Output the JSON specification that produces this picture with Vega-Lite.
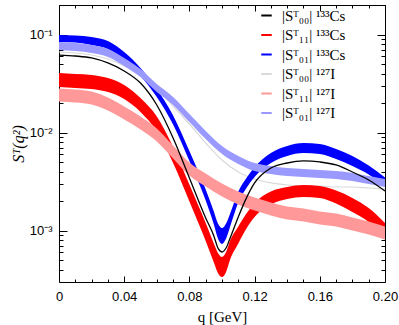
{
 "$schema": "https://vega.github.io/schema/vega-lite/v6.json",
 "width": 326, "height": 277,
 "autosize": {"type": "none"},
 "padding": {"left": 59, "top": 5, "right": 14, "bottom": 43},
 "config": {
  "view": {"stroke": "#000", "strokeWidth": 1},
  "axis": {"labelFont": "Liberation Sans", "labelFontSize": 13, "labelColor": "#000", "tickColor": "#000", "domain": false, "grid": false, "titleFont": "Liberation Serif", "titleFontWeight": "normal", "titleFontSize": 15, "titleColor": "#000"}
 },
 "datasets": {
  "cs01": [{"q":0,"lo":0.0839,"hi":0.0989},{"q":0.01,"lo":0.0829,"hi":0.0977},{"q":0.02,"lo":0.0782,"hi":0.0944},{"q":0.03,"lo":0.0712,"hi":0.0859},{"q":0.04,"lo":0.055,"hi":0.0664},{"q":0.05,"lo":0.0378,"hi":0.0456},{"q":0.06,"lo":0.0231,"hi":0.0278},{"q":0.07,"lo":0.0121,"hi":0.01495},{"q":0.08,"lo":0.00514,"hi":0.0065},{"q":0.09,"lo":0.00203,"hi":0.00263},{"q":0.095,"lo":0.001157,"hi":0.00157},{"q":0.0975,"lo":0.000833,"hi":0.001185},{"q":0.1,"lo":0.000732,"hi":0.001066},{"q":0.1025,"lo":0.000833,"hi":0.001185},{"q":0.105,"lo":0.001104,"hi":0.001498},{"q":0.11,"lo":0.00194,"hi":0.00251},{"q":0.115,"lo":0.002726,"hi":0.00345},{"q":0.12,"lo":0.00353,"hi":0.00446},{"q":0.13,"lo":0.0049,"hi":0.0062},{"q":0.14,"lo":0.00578,"hi":0.00731},{"q":0.15,"lo":0.0062,"hi":0.00784},{"q":0.16,"lo":0.00606,"hi":0.00766},{"q":0.17,"lo":0.00538,"hi":0.00681},{"q":0.18,"lo":0.00457,"hi":0.00578},{"q":0.19,"lo":0.00374,"hi":0.00462},{"q":0.2,"lo":0.00282,"hi":0.00349}],
  "cs11": [{"q":0,"lo":0.0292,"hi":0.0405},{"q":0.01,"lo":0.0285,"hi":0.0396},{"q":0.02,"lo":0.0278,"hi":0.0387},{"q":0.03,"lo":0.0259,"hi":0.036},{"q":0.04,"lo":0.022,"hi":0.0306},{"q":0.05,"lo":0.01623,"hi":0.0225},{"q":0.06,"lo":0.01027,"hi":0.0146},{"q":0.07,"lo":0.0049,"hi":0.00714},{"q":0.08,"lo":0.001986,"hi":0.00296},{"q":0.09,"lo":0.000786,"hi":0.001199},{"q":0.095,"lo":0.000474,"hi":0.000741},{"q":0.0975,"lo":0.000371,"hi":0.000593},{"q":0.1,"lo":0.000337,"hi":0.00054},{"q":0.1025,"lo":0.00038,"hi":0.000607},{"q":0.105,"lo":0.000509,"hi":0.000795},{"q":0.11,"lo":0.000741,"hi":0.001104},{"q":0.115,"lo":0.001053,"hi":0.001498},{"q":0.12,"lo":0.00138,"hi":0.001917},{"q":0.13,"lo":0.00185,"hi":0.00251},{"q":0.14,"lo":0.002105,"hi":0.00279},{"q":0.15,"lo":0.00221,"hi":0.002925},{"q":0.16,"lo":0.00216,"hi":0.002857},{"q":0.17,"lo":0.001894,"hi":0.00257},{"q":0.18,"lo":0.001552,"hi":0.00216},{"q":0.19,"lo":0.001227,"hi":0.001704},{"q":0.2,"lo":0.000863,"hi":0.001199}],
  "i11": [{"q":0,"lo":0.02076,"hi":0.02817},{"q":0.01,"lo":0.02028,"hi":0.02752},{"q":0.02,"lo":0.01935,"hi":0.02626},{"q":0.03,"lo":0.01681,"hi":0.0228},{"q":0.04,"lo":0.01361,"hi":0.01846},{"q":0.05,"lo":0.01076,"hi":0.0146},{"q":0.06,"lo":0.00812,"hi":0.01102},{"q":0.07,"lo":0.00545,"hi":0.00739},{"q":0.08,"lo":0.003655,"hi":0.00496},{"q":0.09,"lo":0.00282,"hi":0.00383},{"q":0.1,"lo":0.002234,"hi":0.00303},{"q":0.11,"lo":0.00185,"hi":0.00251},{"q":0.12,"lo":0.001607,"hi":0.00218},{"q":0.13,"lo":0.00143,"hi":0.00194},{"q":0.14,"lo":0.001301,"hi":0.001765},{"q":0.15,"lo":0.001242,"hi":0.001684},{"q":0.16,"lo":0.001157,"hi":0.00157},{"q":0.17,"lo":0.001104,"hi":0.001498},{"q":0.18,"lo":0.001005,"hi":0.001364},{"q":0.19,"lo":0.000915,"hi":0.001242},{"q":0.2,"lo":0.000814,"hi":0.001104}],
  "i01": [{"q":0,"lo":0.06955,"hi":0.0839},{"q":0.01,"lo":0.0679,"hi":0.08195},{"q":0.02,"lo":0.0648,"hi":0.0782},{"q":0.03,"lo":0.059,"hi":0.0712},{"q":0.04,"lo":0.0478,"hi":0.0577},{"q":0.05,"lo":0.0369,"hi":0.04455},{"q":0.06,"lo":0.0259,"hi":0.0313},{"q":0.07,"lo":0.01912,"hi":0.0231},{"q":0.08,"lo":0.01283,"hi":0.01548},{"q":0.09,"lo":0.00861,"hi":0.01039},{"q":0.1,"lo":0.00606,"hi":0.00731},{"q":0.11,"lo":0.00479,"hi":0.00578},{"q":0.12,"lo":0.00406,"hi":0.0049},{"q":0.13,"lo":0.003785,"hi":0.00457},{"q":0.14,"lo":0.00361,"hi":0.00436},{"q":0.15,"lo":0.00353,"hi":0.00426},{"q":0.16,"lo":0.00345,"hi":0.00416},{"q":0.17,"lo":0.00337,"hi":0.00406},{"q":0.18,"lo":0.00321,"hi":0.003877},{"q":0.19,"lo":0.00299,"hi":0.00361},{"q":0.2,"lo":0.00279,"hi":0.00337}],
  "cs00": [{"q":0,"v":0.0618},{"q":0.01,"v":0.0604},{"q":0.02,"v":0.0577},{"q":0.03,"v":0.0513},{"q":0.04,"v":0.0425},{"q":0.05,"v":0.032},{"q":0.06,"v":0.01912},{"q":0.07,"v":0.00881},{"q":0.08,"v":0.00345},{"q":0.09,"v":0.001348},{"q":0.095,"v":0.000884},{"q":0.0975,"v":0.000666},{"q":0.1,"v":0.000607},{"q":0.1025,"v":0.000666},{"q":0.105,"v":0.000843},{"q":0.11,"v":0.00138},{"q":0.115,"v":0.00216},{"q":0.12,"v":0.00307},{"q":0.13,"v":0.00436},{"q":0.14,"v":0.0049},{"q":0.15,"v":0.00514},{"q":0.16,"v":0.00502},{"q":0.17,"v":0.00468},{"q":0.18,"v":0.00397},{"q":0.19,"v":0.00329},{"q":0.2,"v":0.00254}],
  "i00": [{"q":0,"v":0.0664},{"q":0.01,"v":0.0648},{"q":0.02,"v":0.0618},{"q":0.03,"v":0.0563},{"q":0.04,"v":0.0478},{"q":0.05,"v":0.0378},{"q":0.06,"v":0.0278},{"q":0.07,"v":0.01868},{"q":0.08,"v":0.01224},{"q":0.09,"v":0.00784},{"q":0.1,"v":0.00526},{"q":0.11,"v":0.00397},{"q":0.12,"v":0.00337},{"q":0.13,"v":0.00307},{"q":0.14,"v":0.002925},{"q":0.15,"v":0.002857},{"q":0.16,"v":0.002857},{"q":0.17,"v":0.00279},{"q":0.18,"v":0.00279},{"q":0.19,"v":0.002726},{"q":0.2,"v":0.00266}]
 },
 "layer": [
  {
   "data": {"name": "i00"},
   "mark": {"type": "line", "interpolate": "monotone", "strokeWidth": 1.2, "clip": true},
   "encoding": {
    "x": {"field": "q", "type": "quantitative", "scale": {"domain": [0, 0.2], "nice": false, "zero": false},
     "axis": {"orient": "bottom", "values": [0,0.01,0.02,0.03,0.04,0.05,0.06,0.07,0.08,0.09,0.1,0.11,0.12,0.13,0.14,0.15,0.16,0.17,0.18,0.19,0.2],
      "labelExpr": "round(datum.value*100) % 4 == 0 ? (datum.value == 0 ? '0' : format(datum.value, '.2f')) : ''",
      "labelFontSize": 13, "labelPadding": 14, "labelFlush": false,
      "tickSize": {"condition": {"test": "round(datum.value*100) % 4 == 0", "value": -6}, "value": -3},
      "title": "q [GeV]", "titlePadding": 6}},
    "y": {"field": "v", "type": "quantitative", "scale": {"type": "log", "domain": [0.0003, 0.2], "nice": false},
     "axis": {"orient": "left", "values": [0.0004,0.0005,0.0006,0.0007,0.0008,0.0009,0.001,0.002,0.003,0.004,0.005,0.006,0.007,0.008,0.009,0.01,0.02,0.03,0.04,0.05,0.06,0.07,0.08,0.09,0.1,0.2],
      "labelExpr": "datum.value == 0.1 ? '10⁻¹' : datum.value == 0.01 ? '10⁻²' : datum.value == 0.001 ? '10⁻³' : ''",
      "labelPadding": 15, "labelFlush": false,
      "tickSize": {"condition": {"test": "datum.value == 0.1 || datum.value == 0.01 || datum.value == 0.001", "value": -8}, "value": -4},
      "title": "Sᵀ(q²)", "titleFontStyle": "italic", "titleFontSize": 16, "titlePadding": 3}},
    "stroke": {"datum": "|Sᵀ₀₀| ¹²⁷I", "type": "nominal",
     "scale": {"domain": ["|Sᵀ₀₀| ¹³³Cs", "|Sᵀ₁₁| ¹³³Cs", "|Sᵀ₀₁| ¹³³Cs", "|Sᵀ₀₀| ¹²⁷I", "|Sᵀ₁₁| ¹²⁷I", "|Sᵀ₀₁| ¹²⁷I"],
      "range": ["#000000", "#ff0000", "#0000ff", "#d9d9d9", "#ff9999", "#9999ff"]},
     "legend": {"orient": "none", "legendX": 200, "legendY": 3, "title": null, "symbolType": "stroke", "symbolSize": 110, "symbolStrokeWidth": 2, "labelFont": "Liberation Serif", "labelFontSize": 15, "labelColor": "#000", "rowPadding": 3.5, "labelOffset": 8, "padding": 0}}
   }
  },
  {
   "data": {"name": "cs11"},
   "mark": {"type": "area", "interpolate": "monotone", "color": "#ff0000", "clip": true},
   "encoding": {
    "x": {"field": "q", "type": "quantitative", "scale": {"domain": [0, 0.2], "nice": false, "zero": false},
     "axis": {"orient": "top", "values": [0,0.01,0.02,0.03,0.04,0.05,0.06,0.07,0.08,0.09,0.1,0.11,0.12,0.13,0.14,0.15,0.16,0.17,0.18,0.19,0.2],
      "labels": false, "title": null,
      "tickSize": {"condition": {"test": "round(datum.value*100) % 4 == 0", "value": -6}, "value": -3}}},
    "y": {"field": "lo", "type": "quantitative", "scale": {"type": "log", "domain": [0.0003, 0.2], "nice": false},
     "axis": {"orient": "right", "values": [0.0004,0.0005,0.0006,0.0007,0.0008,0.0009,0.001,0.002,0.003,0.004,0.005,0.006,0.007,0.008,0.009,0.01,0.02,0.03,0.04,0.05,0.06,0.07,0.08,0.09,0.1,0.2],
      "labels": false, "title": null,
      "tickSize": {"condition": {"test": "datum.value == 0.1 || datum.value == 0.01 || datum.value == 0.001", "value": -8}, "value": -4}}},
    "y2": {"field": "hi"}
   }
  },
  {
   "data": {"name": "cs01"},
   "mark": {"type": "area", "interpolate": "monotone", "color": "#0000ff", "clip": true},
   "encoding": {
    "x": {"field": "q", "type": "quantitative", "axis": null},
    "y": {"field": "lo", "type": "quantitative", "axis": null},
    "y2": {"field": "hi"}
   }
  },
  {
   "data": {"name": "i11"},
   "mark": {"type": "area", "interpolate": "monotone", "color": "#ff9999", "opacity": 1, "clip": true},
   "encoding": {
    "x": {"field": "q", "type": "quantitative", "axis": null},
    "y": {"field": "lo", "type": "quantitative", "axis": null},
    "y2": {"field": "hi"}
   }
  },
  {
   "data": {"name": "i01"},
   "mark": {"type": "area", "interpolate": "monotone", "color": "#9999ff", "opacity": 1, "clip": true},
   "encoding": {
    "x": {"field": "q", "type": "quantitative", "axis": null},
    "y": {"field": "lo", "type": "quantitative", "axis": null},
    "y2": {"field": "hi"}
   }
  },
  {
   "data": {"name": "cs00"},
   "mark": {"type": "line", "interpolate": "monotone", "strokeWidth": 1.3, "clip": true},
   "encoding": {
    "x": {"field": "q", "type": "quantitative", "axis": null},
    "y": {"field": "v", "type": "quantitative", "axis": null},
    "stroke": {"datum": "|Sᵀ₀₀| ¹³³Cs", "type": "nominal"}
   }
  }
 ],
 "resolve": {"axis": {"x": "independent", "y": "independent"}}
}
